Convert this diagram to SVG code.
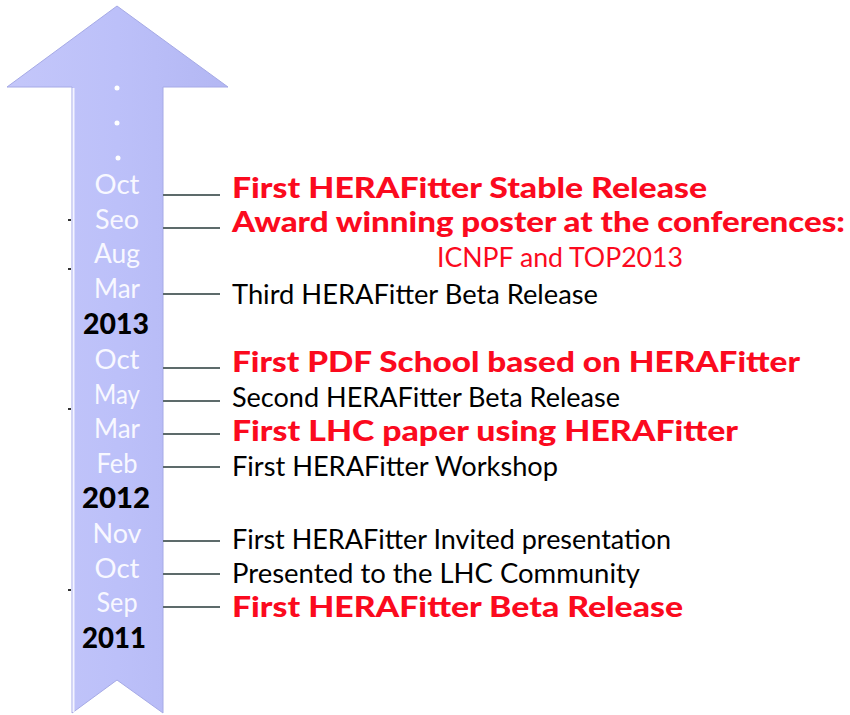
<svg xmlns="http://www.w3.org/2000/svg" width="850" height="715" viewBox="0 0 850 715">
<defs>
<linearGradient id="ag" x1="0" y1="0" x2="1" y2="0">
<stop offset="0" stop-color="#c4c7fa"/>
<stop offset="0.5" stop-color="#bcc0f9"/>
<stop offset="1" stop-color="#b3b7f3"/>
</linearGradient>
<style>
.m{font-family:Lato,"Open Sans","Liberation Sans",sans-serif;font-size:27px;fill:#f8f8ff;text-anchor:middle}
.y{font-family:Lato,"Liberation Sans",sans-serif;font-size:29px;font-weight:900;fill:#000;text-anchor:middle}
.c{stroke:#5d6b6b;stroke-width:2;fill:none}
.t{stroke:#333;stroke-width:2}
.b{font-family:Lato,"Liberation Sans",sans-serif;font-size:28px;font-weight:900;fill:#fb0a1e}
.r{font-family:Lato,"Liberation Sans",sans-serif;font-size:26px;fill:#fb0a1e}
.k{font-family:Lato,"Liberation Sans",sans-serif;font-size:26px;fill:#000}
</style>
</defs>
<rect width="850" height="715" fill="#fff"/>
<g id="arrow">
<path d="M117,6 L7,87 L72,87 L72,713 L117,680 L163,713 L163,87 L228,87 Z" fill="url(#ag)" stroke="#a6aae6" stroke-width="1"/>
<line x1="73.5" y1="88" x2="73.5" y2="712" stroke="#f4f4ff" stroke-width="2"/>
<circle cx="117" cy="88" r="2.5" fill="#fff"/>
<circle cx="117" cy="123" r="2.5" fill="#fff"/>
<circle cx="118" cy="158" r="2.5" fill="#fff"/>
<text class="m" x="117" y="194" textLength="45" lengthAdjust="spacingAndGlyphs">Oct</text>
<text class="m" x="117" y="229" textLength="44" lengthAdjust="spacingAndGlyphs">Seo</text>
<text class="m" x="117" y="263" textLength="46" lengthAdjust="spacingAndGlyphs">Aug</text>
<text class="m" x="117" y="298" textLength="46" lengthAdjust="spacingAndGlyphs">Mar</text>
<text class="y" x="116" y="334" textLength="66" lengthAdjust="spacingAndGlyphs">2013</text>
<text class="m" x="117" y="369" textLength="45" lengthAdjust="spacingAndGlyphs">Oct</text>
<text class="m" x="117" y="404" textLength="46" lengthAdjust="spacingAndGlyphs">May</text>
<text class="m" x="117" y="438" textLength="46" lengthAdjust="spacingAndGlyphs">Mar</text>
<text class="m" x="117" y="473" textLength="41" lengthAdjust="spacingAndGlyphs">Feb</text>
<text class="y" x="116" y="508" textLength="68" lengthAdjust="spacingAndGlyphs">2012</text>
<text class="m" x="117" y="543" textLength="49" lengthAdjust="spacingAndGlyphs">Nov</text>
<text class="m" x="117" y="578" textLength="45" lengthAdjust="spacingAndGlyphs">Oct</text>
<text class="m" x="117" y="612" textLength="41" lengthAdjust="spacingAndGlyphs">Sep</text>
<text class="y" x="114" y="648" textLength="64" lengthAdjust="spacingAndGlyphs">2011</text>
</g>
<g id="ticks">
<line class="t" x1="68" y1="220" x2="71" y2="220"/>
<line class="t" x1="68" y1="269" x2="71" y2="269"/>
<line class="t" x1="68" y1="409" x2="71" y2="409"/>
<line class="t" x1="68" y1="590" x2="71" y2="590"/>
</g>
<g id="connectors">
<line class="c" x1="163" y1="195" x2="220" y2="195"/>
<line class="c" x1="163" y1="228" x2="220" y2="228"/>
<line class="c" x1="163" y1="294" x2="220" y2="294"/>
<line class="c" x1="163" y1="368" x2="220" y2="368"/>
<line class="c" x1="163" y1="401" x2="220" y2="401"/>
<line class="c" x1="163" y1="434" x2="220" y2="434"/>
<line class="c" x1="163" y1="467" x2="220" y2="467"/>
<line class="c" x1="163" y1="541" x2="220" y2="541"/>
<line class="c" x1="163" y1="574" x2="220" y2="574"/>
<line class="c" x1="163" y1="607" x2="220" y2="607"/>
</g>
<g id="ev-2013-oct"><text class="b" x="232" y="198" textLength="475" lengthAdjust="spacingAndGlyphs">First HERAFitter Stable Release</text></g>
<g id="ev-2013-sep"><text class="b" x="232" y="232" textLength="613" lengthAdjust="spacingAndGlyphs">Award winning poster at the conferences:</text>
<text class="r" x="437" y="267" textLength="246" lengthAdjust="spacingAndGlyphs">ICNPF and TOP2013</text></g>
<g id="ev-2013-mar"><text class="k" x="232" y="304" textLength="366" lengthAdjust="spacingAndGlyphs">Third HERAFitter Beta Release</text></g>
<g id="ev-2012-oct"><text class="b" x="232" y="372" textLength="568" lengthAdjust="spacingAndGlyphs">First PDF School based on HERAFitter</text></g>
<g id="ev-2012-may"><text class="k" x="232" y="407" textLength="388" lengthAdjust="spacingAndGlyphs">Second HERAFitter Beta Release</text></g>
<g id="ev-2012-mar"><text class="b" x="232" y="441" textLength="506" lengthAdjust="spacingAndGlyphs">First LHC paper using HERAFitter</text></g>
<g id="ev-2012-feb"><text class="k" x="232" y="476" textLength="326" lengthAdjust="spacingAndGlyphs">First HERAFitter Workshop</text></g>
<g id="ev-2011-nov"><text class="k" x="232" y="549" textLength="439" lengthAdjust="spacingAndGlyphs">First HERAFitter Invited presentation</text></g>
<g id="ev-2011-oct"><text class="k" x="232" y="583" textLength="408" lengthAdjust="spacingAndGlyphs">Presented to the LHC Community</text></g>
<g id="ev-2011-sep"><text class="b" x="232" y="617" textLength="451" lengthAdjust="spacingAndGlyphs">First HERAFitter Beta Release</text></g>
</svg>
